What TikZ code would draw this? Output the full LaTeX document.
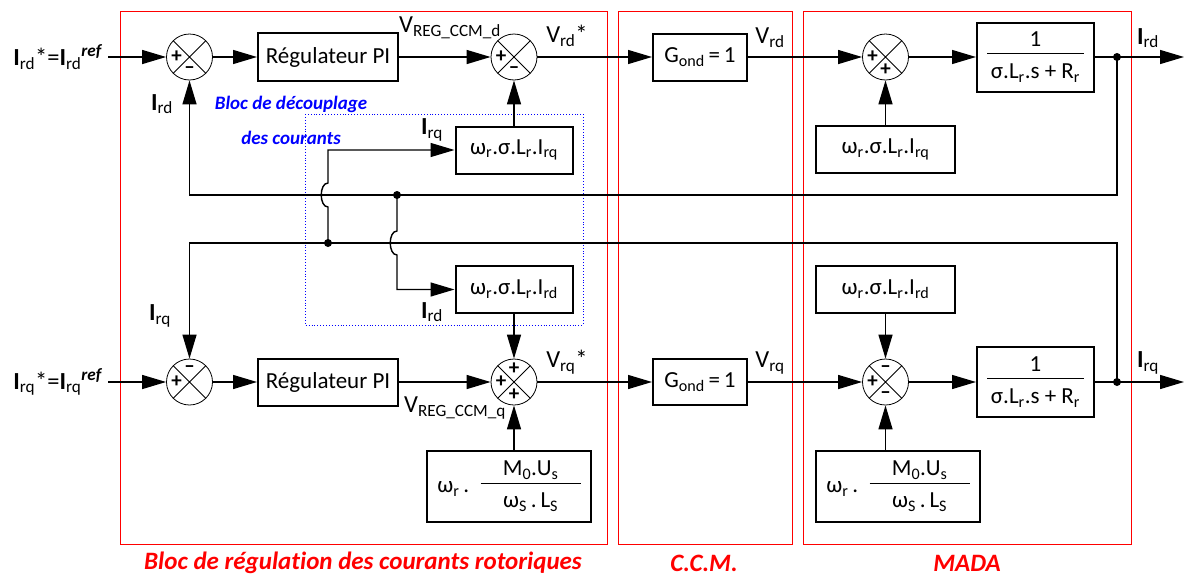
\documentclass[tikz,border=0pt]{standalone}
\usepackage{fontspec}
\setmainfont{Carlito}[Ligatures=NoCommon]
\usetikzlibrary{arrows.meta}
\newcommand\frc[2]{\begin{tabular}{@{\,}c@{\,}}#1\\[-1pt]\hline\rule{0pt}{1.05em}#2\end{tabular}}
\newcommand\frw[3]{\begin{tabular}{@{}c@{}}\makebox[#1]{#2}\\[-1pt]\hline\rule{0pt}{1.05em}#3\end{tabular}}
\newcommand\sbs[1]{\textsubscript{#1}}
\begin{document}
\begin{tikzpicture}[x=1pt,y=-1pt,
  every node/.style={font=\fontsize{24.5}{28}\selectfont},
  line/.style={line width=1.4pt},
  sig/.style={line width=1.4pt,-{Triangle[length=24pt,width=14pt]}},
  blk/.style={draw,line width=2pt,inner sep=0pt,align=center,font=\fontsize{23}{27}\selectfont},
  sumc/.style={circle,draw,line width=0.8pt,minimum size=46pt,inner sep=0pt,
    path picture={\draw[line width=0.8pt] (path picture bounding box.north west) -- (path picture bounding box.south east)
      (path picture bounding box.north east) -- (path picture bounding box.south west);}},
  sg/.style={inner sep=0pt,font=\fontsize{21}{21}\selectfont\bfseries},
  dotn/.style={circle,fill,inner sep=0pt,minimum size=8pt},
  redbox/.style={draw=red,line width=0.9pt},
  redlab/.style={text=red,font=\fontsize{25}{29}\selectfont\bfseries\itshape},
  bluelab/.style={text=blue,font=\fontsize{19}{22}\selectfont\bfseries\itshape},
  lab/.style={inner sep=0pt}]
\useasboundingbox (0,0) rectangle (1184,576);
\arrayrulewidth=0.8pt
% frames
\draw[redbox] (120,11) rectangle (607,544);
\draw[redbox] (618,11) rectangle (792,544);
\draw[redbox] (803,11) rectangle (1131,544);
\draw[blue,dotted,line width=0.9pt] (305,114) rectangle (583,325);
\node[redlab] (lr1) at (363,563) {Bloc de régulation des courants rotoriques};
\node[redlab] (lr2) at (704,563) {C.C.M.};
\node[redlab] (lr3) at (967,563) {MADA};
\node[bluelab] (lb1) at (291,104) {Bloc de découplage};
\node[bluelab] (lb2) at (291,138) {des courants};
% top row
\coordinate (in1) at (108,57);
\node[sumc] (s1) at (189.5,57) {};
\node[blk,minimum width=140pt,minimum height=48pt] (pi1) at (328,57) {Régulateur PI};
\node[sumc] (s2) at (514,57) {};
\node[blk,minimum width=94pt,minimum height=47pt] (g1) at (700,57) {G\sbs{ond}\,=\,1};
\node[sumc] (s3) at (885.5,57) {};
\node[blk,minimum width=117pt,minimum height=69pt] (tf1) at (1035.5,57) {\frc{1}{σ.L\sbs{r}.s + R\sbs{r}}};
\node[dotn] (d1) at (1117,57) {};
\coordinate (out1) at (1184,57);
% bottom row
\coordinate (in2) at (108,382);
\node[sumc] (s4) at (189.5,382) {};
\node[blk,minimum width=140pt,minimum height=47pt] (pi2) at (328,382) {Régulateur PI};
\node[sumc] (s5) at (514,382) {};
\node[blk,minimum width=94pt,minimum height=46pt] (g2) at (700,382) {G\sbs{ond}\,=\,1};
\node[sumc] (s6) at (885.5,382) {};
\node[blk,minimum width=117pt,minimum height=70pt] (tf2) at (1035.5,382) {\frc{1}{σ.L\sbs{r}.s + R\sbs{r}}};
\node[dotn] (d2) at (1117,382) {};
\coordinate (out2) at (1184,382);
% side blocks
\node[blk,minimum width=117pt,minimum height=47pt] (dq1) at (514,150) {ω\sbs{r}.σ.L\sbs{r}.I\sbs{rq}};
\node[blk,minimum width=117pt,minimum height=47pt] (dq2) at (514,289.5) {ω\sbs{r}.σ.L\sbs{r}.I\sbs{rd}};
\node[blk,minimum width=139pt,minimum height=47pt] (m1) at (885.5,149.5) {ω\sbs{r}.σ.L\sbs{r}.I\sbs{rq}};
\node[blk,minimum width=139pt,minimum height=47pt] (m2) at (885.5,289.5) {ω\sbs{r}.σ.L\sbs{r}.I\sbs{rd}};
\node[blk,minimum width=164pt,minimum height=71pt] (c3) at (509,486.5) {ω\sbs{r}\,.\enspace\frw{100pt}{M\sbs{0}.U\sbs{s}}{ω\sbs{S}\,.\,L\sbs{S}}};
\node[blk,minimum width=164pt,minimum height=71pt] (m3) at (898,486.5) {ω\sbs{r}\,.\enspace\frw{100pt}{M\sbs{0}.U\sbs{s}}{ω\sbs{S}\,.\,L\sbs{S}}};
% signs
\node[sg] at ([xshift=-13pt]s1.center) {+};
\node[sg] at ([yshift=-13pt]s1.center) {–};
\node[sg] at ([xshift=-13pt]s2.center) {+};
\node[sg] at ([yshift=-13pt]s2.center) {–};
\node[sg] at ([xshift=-13pt]s3.center) {+};
\node[sg] at ([yshift=-13pt]s3.center) {+};
\node[sg] at ([xshift=-13pt]s4.center) {+};
\node[sg] at ([yshift=13pt]s4.center) {–};
\node[sg] at ([xshift=-13pt]s5.center) {+};
\node[sg] at ([yshift=13pt]s5.center) {+};
\node[sg] at ([yshift=-13pt]s5.center) {+};
\node[sg] at ([xshift=-13pt]s6.center) {+};
\node[sg] at ([yshift=13pt]s6.center) {–};
\node[sg] at ([yshift=-13pt]s6.center) {–};
% main signal lines
\draw[sig] (in1) -- (s1);
\draw[sig] (s1) -- (pi1);
\draw[sig] (pi1) -- (s2);
\draw[sig] (s2) -- (g1);
\draw[sig] (g1) -- (s3);
\draw[sig] (s3) -- (tf1);
\draw[line] (tf1) -- (d1.center);
\draw[sig] (d1.center) -- (out1);
\draw[sig] (in2) -- (s4);
\draw[sig] (s4) -- (pi2);
\draw[sig] (pi2) -- (s5);
\draw[sig] (s5) -- (g2);
\draw[sig] (g2) -- (s6);
\draw[sig] (s6) -- (tf2);
\draw[line] (tf2) -- (d2.center);
\draw[sig] (d2.center) -- (out2);
% feedback
\coordinate (fb1) at (189.5,195);
\coordinate (fb2) at (189.5,243);
\draw[sig] (d1.center) |- (fb1) -- (s1.south);
\draw[sig] (d2.center) |- (fb2) -- (s4.north);
\node[dotn] (j1) at (397,195) {};
\node[dotn] (j2) at (328,243) {};
\draw[sig] (j2.center) -- (328,207) .. controls (319,207) and (319,183) .. (328,183) |- (dq1.west);
\draw[sig] (j1.center) -- (397,231) .. controls (388,231) and (388,255) .. (397,255) |- (dq2.west);
% vertical inputs to sums
\draw[sig] (dq1) -- (s2);
\draw[sig] (dq2) -- (s5);
\draw[sig] (m1) -- (s3);
\draw[sig] (m2) -- (s6);
\draw[sig] (c3.north -| s5.south) -- (s5.south);
\draw[sig] (m3.north -| s6.south) -- (s6.south);
% labels
\node[lab] (l1) at (58,57) {\textbf{I}\sbs{rd}*=\textbf{I}\sbs{rd}\textsuperscript{\textbf{\textit{ref}}}};
\node[lab] (l2) at (58,382) {\textbf{I}\sbs{rq}*=\textbf{I}\sbs{rq}\textsuperscript{\textbf{\textit{ref}}}};
\node[lab] (l3) at (450,28) {V\sbs{REG\_CCM\_d}};
\node[lab] (l4) at (455,408) {V\sbs{REG\_CCM\_q}};
\node[lab] (l5) at (567,36) {V\sbs{rd}*};
\node[lab] (l6) at (567,362) {V\sbs{rq}*};
\node[lab] (l7) at (770,38) {V\sbs{rd}};
\node[lab] (l8) at (770,363) {V\sbs{rq}};
\node[lab] (l9) at (1148,38) {\textbf{I}\sbs{rd}};
\node[lab] (l10) at (1148,363) {\textbf{I}\sbs{rq}};
\node[lab] (l11) at (162,104) {\textbf{I}\sbs{rd}};
\node[lab] (l12) at (160,316) {\textbf{I}\sbs{rq}};
\node[lab] (l13) at (432,130) {\textbf{I}\sbs{rq}};
\node[lab] (l14) at (432,312) {\textbf{I}\sbs{rd}};
\end{tikzpicture}
\end{document}
